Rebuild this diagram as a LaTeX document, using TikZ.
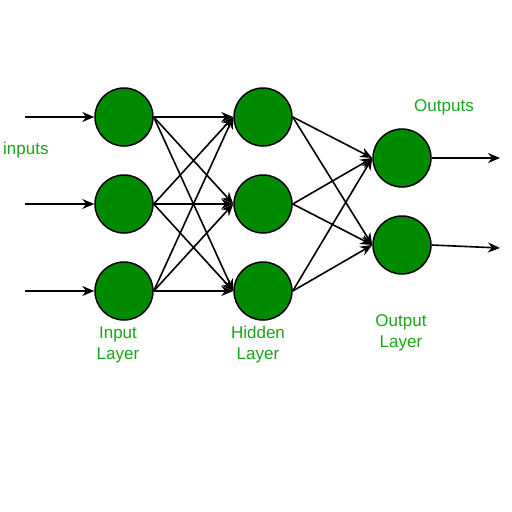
\documentclass[tikz,border=0pt]{standalone}
\usepackage{fontspec}
\setmainfont{Liberation Sans}
\usetikzlibrary{arrows.meta, positioning}
\definecolor{nodegreen}{RGB}{0,138,0}
\definecolor{labelgreen}{RGB}{25,165,25}
\tikzstyle{neuron} = [circle, minimum size=58pt, inner sep=0pt, draw=black, line width=1.5pt, fill=nodegreen]
\tikzstyle{lbl} = [text=labelgreen, font=\fontsize{17}{21}\selectfont, align=center, inner sep=0pt]
\tikzstyle{link} = [line width=1.6pt, -{Stealth[length=12pt, width=10pt]}]

\begin{document}
\begin{tikzpicture}[node distance=87pt]
\useasboundingbox (0,0) rectangle (512pt,-512pt);
% input layer
\node (i1) [neuron] at (124pt,-117pt) {};
\node (i2) [neuron, below of=i1] {};
\node (i3) [neuron, below of=i2] {};
% hidden layer
\node (h1) [neuron, right of=i1, xshift=52pt] {};
\node (h2) [neuron, below of=h1] {};
\node (h3) [neuron, below of=h2] {};
% output layer
\node (o1) [neuron, below of=h1, xshift=139pt, yshift=46pt] {};
\node (o2) [neuron, below of=o1] {};
% free ends
\coordinate [left of=i1, xshift=-12pt] (in1);
\coordinate [left of=i2, xshift=-12pt] (in2);
\coordinate [left of=i3, xshift=-12pt] (in3);
\coordinate [right of=o1, xshift=11pt] (out1);
\coordinate [right of=o2, xshift=11pt, yshift=-3pt] (out2);
% labels
\node (inputs) [lbl, anchor=west] at (3pt,-150pt) {inputs};
\node (outputs) [lbl] at (444pt,-107pt) {Outputs};
\node (inlayer) [lbl] at (118pt,-345pt) {Input\\Layer};
\node (hidlayer) [lbl] at (258pt,-345pt) {Hidden\\Layer};
\node (outlayer) [lbl] at (401pt,-333pt) {Output\\Layer};
% arrows
\draw [link] (in1) -- (i1.west);
\draw [link] (in2) -- (i2.west);
\draw [link] (in3) -- (i3.west);
\foreach \a in {i1,i2,i3}
  \foreach \b in {h1,h2,h3}
    \draw [link] (\a.east) -- (\b.west);
\foreach \a in {h1,h2,h3}
  \foreach \b in {o1,o2}
    \draw [link] (\a.east) -- (\b.west);
\draw [link] (o1.east) -- (out1);
\draw [link] (o2.east) -- (out2);
\end{tikzpicture}
\end{document}
